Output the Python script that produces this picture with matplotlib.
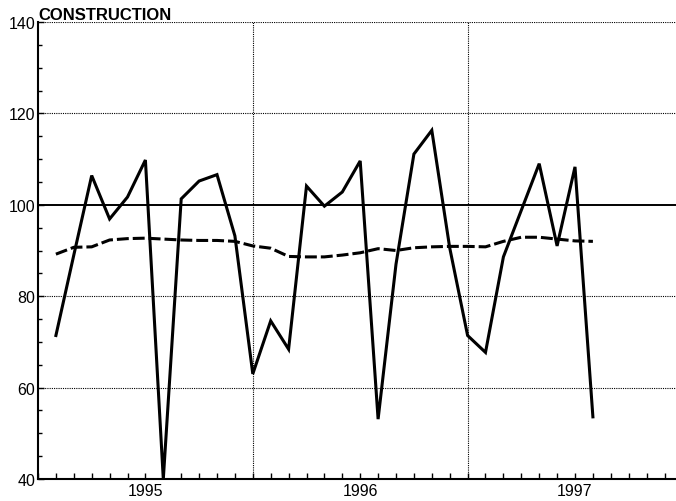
import matplotlib.pyplot as plt
import numpy as np
from matplotlib.ticker import MultipleLocator, FixedLocator

plt.rcParams['font.family'] = ['Liberation Sans', 'DejaVu Sans']

# valores mensuales, ene 1995 - jul 1997
construction = [71.4, 89.0, 106.4, 96.9, 101.7, 109.8, 40.0, 101.3, 105.2, 106.6,
                93.2, 63.0, 74.6, 68.4, 104.1, 99.7, 102.8, 109.6, 53.1, 87.0,
                111.1, 116.3, 90.6, 71.4, 67.7, 88.6, 98.8, 109.0, 91.0, 108.3,
                53.6]
trend = [89.2, 90.7, 90.8, 92.3, 92.6, 92.7, 92.5, 92.3, 92.2, 92.2,
         92.0, 91.0, 90.5, 88.7, 88.6, 88.6, 89.0, 89.5, 90.4, 90.0,
         90.6, 90.8, 90.9, 90.9, 90.8, 92.0, 92.9, 92.9, 92.5, 92.1,
         92.0]
years = ['1995', '1996', '1997']

months = np.arange(1, len(construction) + 1)

fig = plt.figure(figsize=(6.76, 5.02), dpi=100)
ax = fig.add_axes([38 / 676, 22 / 502, 644.4 / 676, 457 / 502])

# grilla punteada
for y in [60, 80, 120, 140]:
    ax.axhline(y, color='black', lw=0.8, ls=(0, (1, 1)), zorder=1)
for x in [12, 24]:
    ax.axvline(x, color='black', lw=0.8, ls=(0, (1, 1)), zorder=1)
ax.axhline(100, color='black', lw=1.4, zorder=1)

ax.plot(months, construction, color='black', lw=2.2, solid_joinstyle='miter', zorder=3)
ax.plot(months, trend, color='black', lw=2.2, ls=(0, (3.9, 1.3)), zorder=3)

ax.set_xlim(0, 36)
ax.set_ylim(40, 140)

ax.spines['top'].set_visible(False)
ax.spines['right'].set_visible(False)
ax.spines['left'].set_linewidth(1.5)
ax.spines['bottom'].set_linewidth(1.5)

ax.yaxis.set_major_locator(MultipleLocator(20))
ax.yaxis.set_minor_locator(MultipleLocator(5))
ax.xaxis.set_major_locator(FixedLocator([6, 18, 30]))
ax.set_xticklabels(years)
ax.xaxis.set_minor_locator(MultipleLocator(1))

ax.tick_params(axis='both', which='both', direction='in', color='black', width=1.0)
ax.tick_params(axis='y', which='major', length=4, pad=2, labelsize=11.5)
ax.tick_params(axis='y', which='minor', length=3)
ax.tick_params(axis='x', which='major', length=4, pad=3, labelsize=11.5)
ax.tick_params(axis='x', which='minor', length=4)

ax.text(0.0, 1.0, 'CONSTRUCTION', transform=ax.transAxes, fontsize=12,
        fontweight='bold', ha='left', va='bottom')

fig.savefig('out.png', dpi=100)
